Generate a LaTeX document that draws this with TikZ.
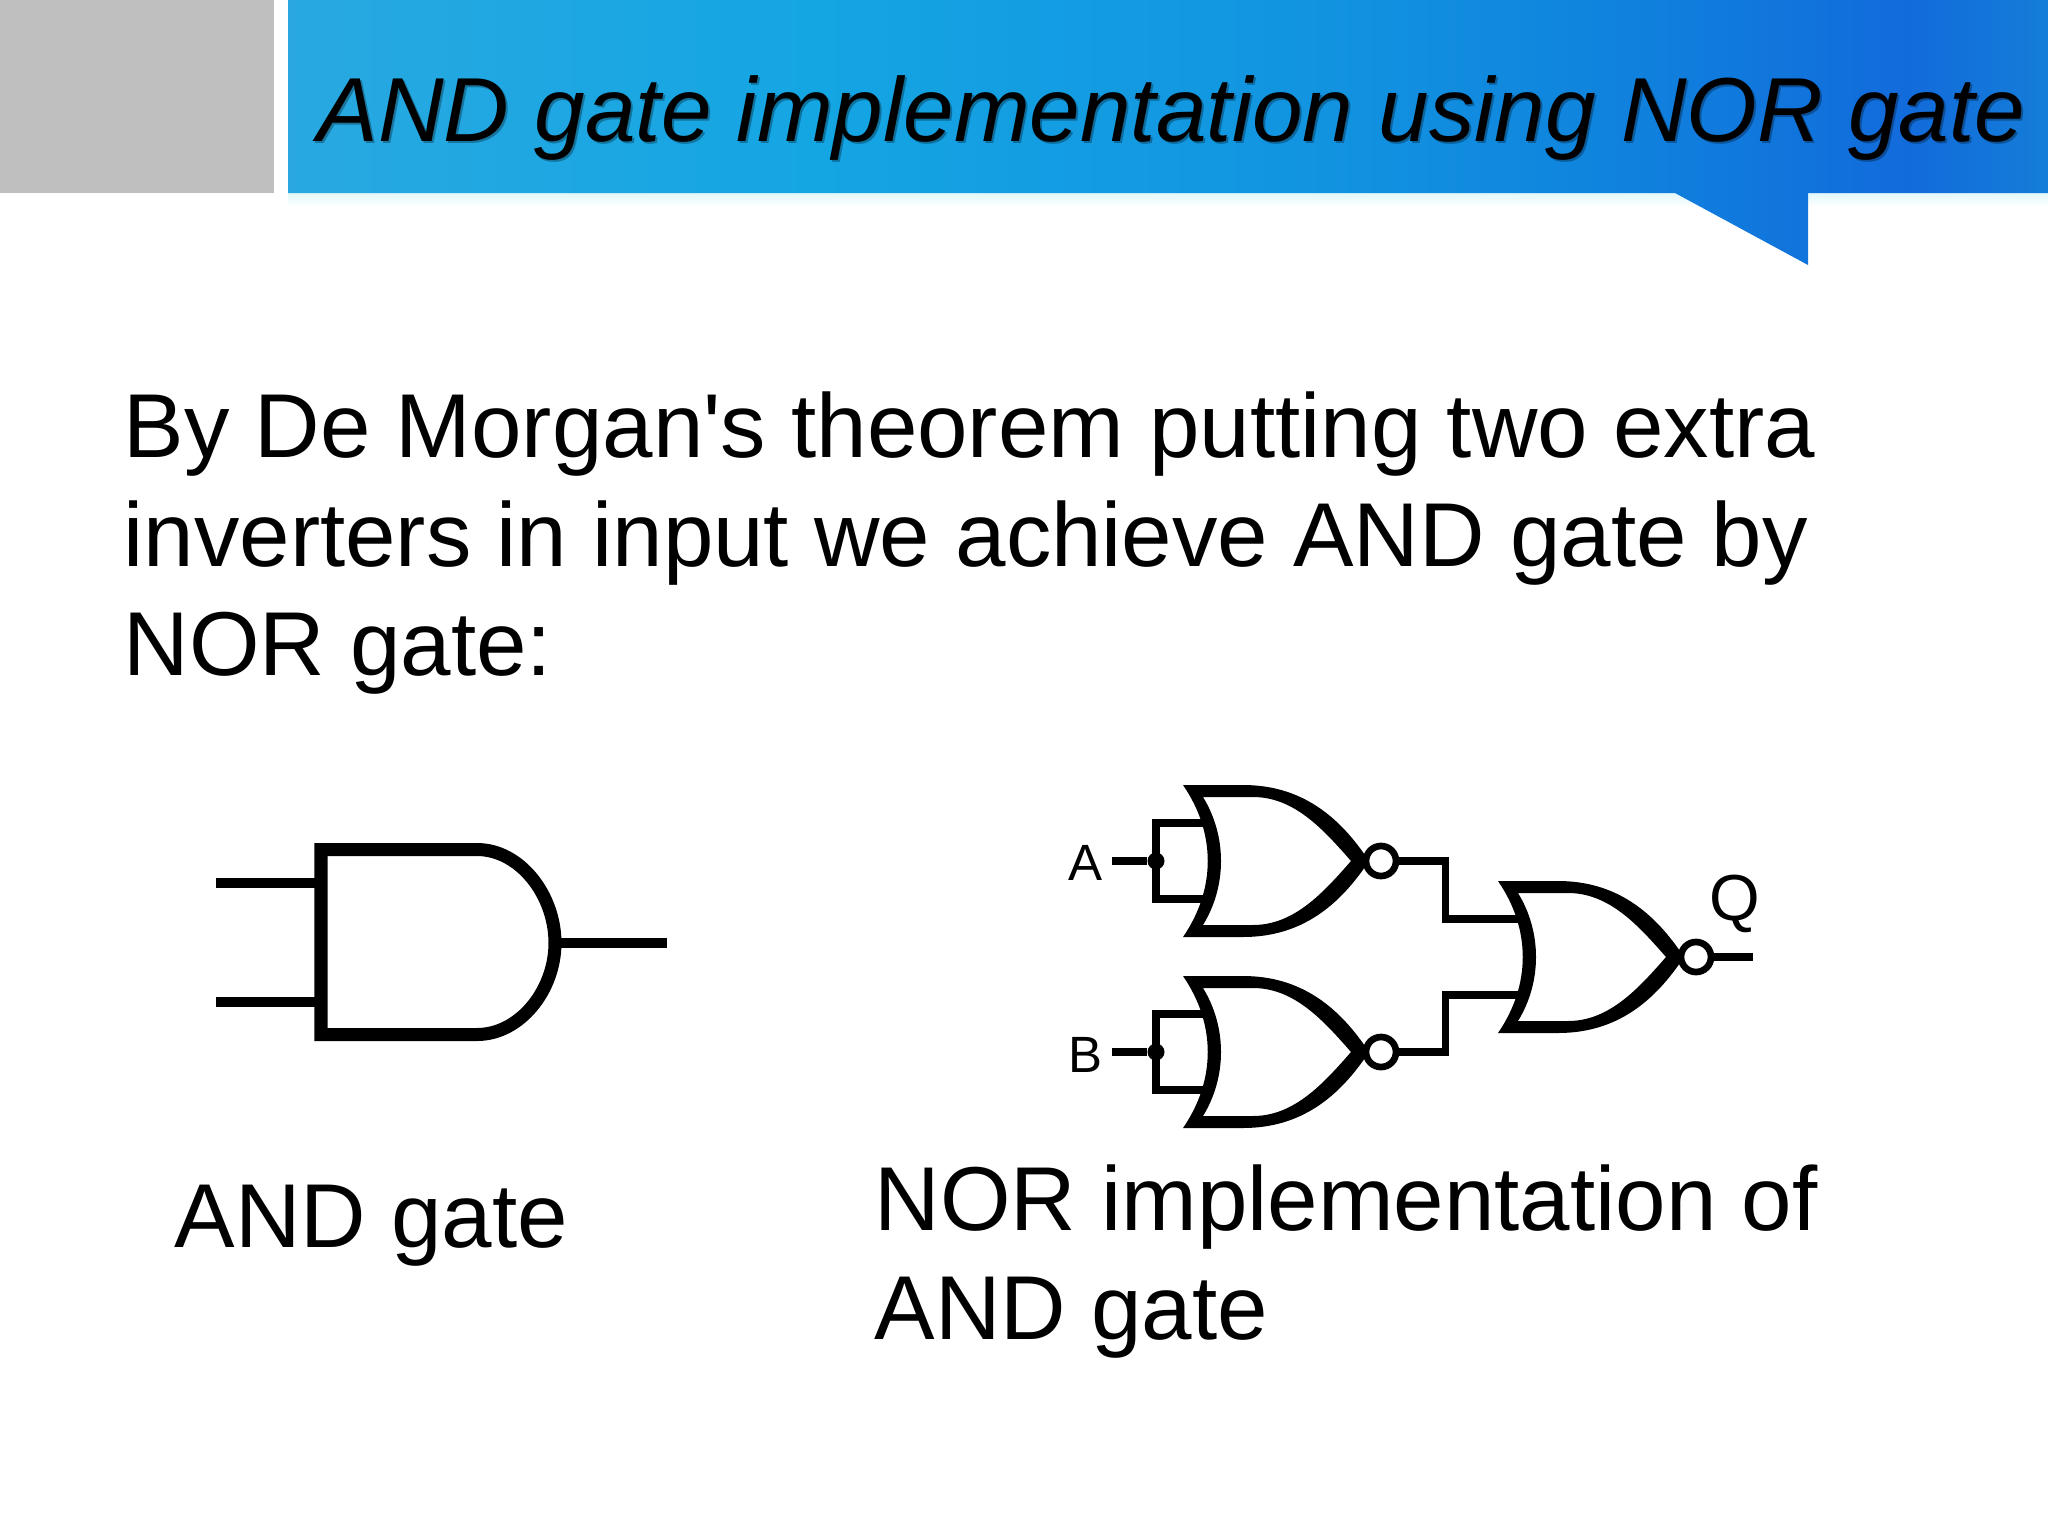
\documentclass[tikz,border=0pt]{standalone}
\usepackage{fontspec}
\setmainfont{Liberation Sans}[Ligatures=TeXOff]

\definecolor{sidegray}{HTML}{BFBFBF}
\definecolor{glowcyan}{HTML}{E2F8FB}

\pgfdeclarehorizontalshading{headerfade}{100bp}{
  rgb(0bp)=(0.16,0.66,0.88);
  rgb(25bp)=(0.16,0.66,0.88);
  rgb(39.5bp)=(0.08,0.65,0.89);
  rgb(54bp)=(0.07,0.58,0.88);
  rgb(62bp)=(0.06,0.52,0.87);
  rgb(71bp)=(0.07,0.42,0.86);
  rgb(75bp)=(0.08,0.49,0.85);
  rgb(100bp)=(0.08,0.49,0.85)}

\tikzset{
  wire/.style={line width=2pt,miter limit=10},
  bigwire/.style={line width=2.6pt},
  bodytext/.style={anchor=base west,inner sep=0pt,align=left,font=\fontsize{25.8}{30.9}\selectfont},
  titletext/.style={anchor=base west,inner sep=0pt,font=\fontsize{25.85}{30}\selectfont\itshape},
  bubble/.style={circle,draw,fill=white,line width=1.9pt,inner sep=0pt,minimum size=.3cm},
  joint/.style={circle,fill=black,inner sep=0pt,minimum size=.17cm},
  pinlabel/.style={anchor=base,inner sep=0pt,font=\fontsize{14.5}{16}\selectfont},
  norgate/.pic={
    \fill[even odd rule]
      (-5,-76) -- (55,-76) .. controls (114,-76) and (152,-44) .. (181,0)
      .. controls (152,44) and (114,76) .. (55,76) -- (-5,76)
      .. controls (28,28) and (28,-28) .. (-5,-76) -- cycle
      (15,-64) -- (65,-64) .. controls (106,-64) and (135,-32) .. (163,0)
      .. controls (135,32) and (106,64) .. (65,64) -- (15,64)
      .. controls (39,25) and (39,-25) .. (15,-64) -- cycle;
    \node[bubble] (-bub) at (193,0) {};
    \coordinate (-ina) at (20,-38);
    \coordinate (-inb) at (20,38);
  }
}

\begin{document}
\begin{tikzpicture}[x=.01cm,y=-.01cm]
\useasboundingbox (0,0) rectangle (2048,1536);

\fill[sidegray] (0,0) rectangle (274,193);
\shade[top color=glowcyan,bottom color=white] (288,193) rectangle (2048,207);
\shade[shading=headerfade]
  (288,0) -- (2048,0) -- (2048,193) -- (1808,193) -- (1808,265) -- (1675,193) -- (288,193) -- cycle;

\node[titletext,opacity=.3] (titleShadow) at (319,143) {AND gate implementation using NOR gate};
\node[titletext] (title) at (317,141) {AND gate implementation using NOR gate};

\node[bodytext] (intro) at (123,675) {By De Morgan's theorem putting two extra\\inverters in input we achieve AND gate by\\NOR gate:};
\node[bodytext] (andLabel) at (174,1247) {AND gate};
\node[bodytext] (norLabel) at (874,1339) {NOR implementation of\\AND gate};

\draw[line width=3.7pt,miter limit=10]
  (477,849.5) -- (321,849.5) -- (321,1034.5) -- (477,1034.5)
  .. controls (520,1034.5) and (555,990) .. (555,943)
  .. controls (555,895) and (520,849.5) .. (477,849.5) -- cycle;
\coordinate (andA) at (216,883);
\coordinate (andB) at (216,1002);
\coordinate (andOut) at (667,943);
\draw[bigwire] (andA) -- (316,883);
\draw[bigwire] (andB) -- (316,1002);
\draw[bigwire] (556,943) -- (andOut);

\node[joint] (dA) at (1156,861) {};
\node[joint] (dB) at (1156,1052) {};
\coordinate (tA) at (1112,861);
\coordinate (tB) at (1112,1052);
\coordinate (tJa) at (1445,919);
\coordinate (tJb) at (1445,995);
\coordinate (tQ) at (1753,957);

\pic (gA) at (1188,861) {norgate};
\pic (gB) at (1188,1052) {norgate};
\pic (gC) at (1503,957) {norgate};

\draw[wire] (tA) -- (dA);
\draw[wire] (dA.center) |- (gA-ina);
\draw[wire] (dA.center) |- (gA-inb);

\draw[wire] (tB) -- (dB);
\draw[wire] (dB.center) |- (gB-ina);
\draw[wire] (dB.center) |- (gB-inb);

\draw[wire] (gA-bub.east) -| (tJa) -- (gC-ina);
\draw[wire] (gB-bub.east) -| (tJb) -- (gC-inb);
\draw[wire] (gC-bub.east) -- (tQ);

\node[pinlabel] (lA) at (1085,880) {A};
\node[pinlabel] (lB) at (1085,1072) {B};
\node[pinlabel,font=\fontsize{18.5}{20}\selectfont] (lQ) at (1735,920) {Q};

\end{tikzpicture}
\end{document}
